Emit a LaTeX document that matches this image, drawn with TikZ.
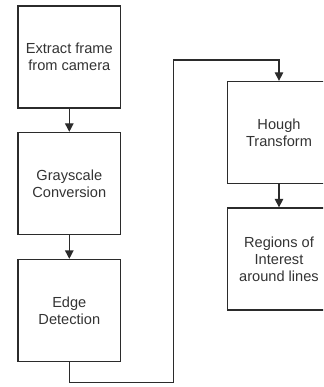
\documentclass[tikz,border=0pt]{standalone}
\usepackage{fontspec}
\setmainfont{Liberation Sans}
\usetikzlibrary{arrows.meta}
\definecolor{ink}{HTML}{2B2B2B}
\definecolor{txt}{HTML}{333333}
\tikzset{
  stagebox/.style={draw=ink, line width=1.3pt, minimum width=102.7pt, minimum height=102pt,
    inner sep=0pt, align=center, text=txt, font=\fontsize{14.6pt}{17pt}\selectfont},
  flow/.style={draw=ink, line width=1.3pt, -{Triangle[width=8.5pt,length=8.5pt]}},
}
\begin{document}
\begin{tikzpicture}[x=1pt, y=-1pt]
  \useasboundingbox (0,0) rectangle (323,387);
  \clip (0,0) rectangle (323,387);
  % left column
  \node[stagebox] (extract) at (69.3,57) {Extract frame\\from camera};
  \node[stagebox] (gray) at (69.3,183.5) {Grayscale\\Conversion};
  \node[stagebox] (edge) at (69.3,310.5) {Edge\\Detection};
  % right column
  \node[stagebox] (hough) at (279,132.5) {Hough\\Transform};
  \node[stagebox] (roi) at (279,259) {Regions of\\Interest\\around lines};
  % route from edge detection over to the Hough stage
  \coordinate (r1) at (69.3,382.7);
  \coordinate (r2) at (173.5,382.7);
  \coordinate (r3) at (173.5,60);
  \coordinate (r4) at (279,60);
  \draw[flow] (extract) -- (gray);
  \draw[flow] (gray) -- (edge);
  \draw[flow] (edge.south) -- (r1) -- (r2) -- (r3) -- (r4) -- (hough.north);
  \draw[flow] (hough) -- (roi);
\end{tikzpicture}
\end{document}
